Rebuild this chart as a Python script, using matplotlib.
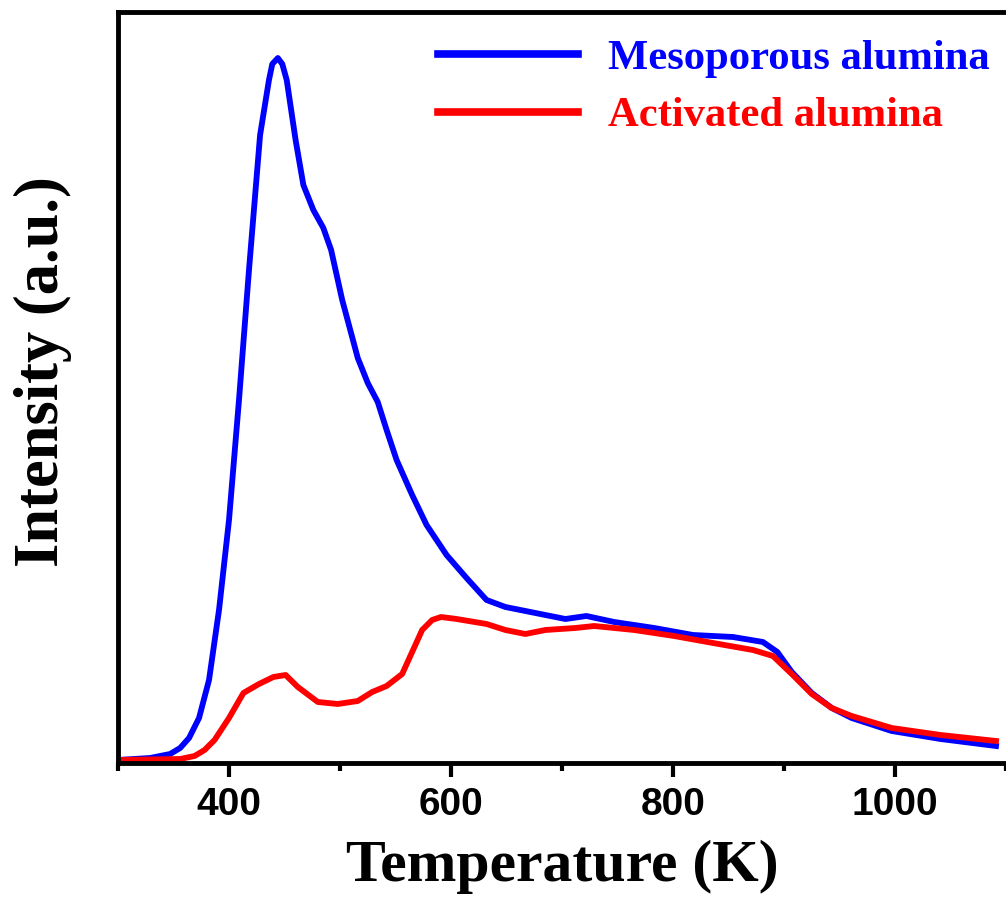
import matplotlib
matplotlib.use('agg')
import matplotlib.pyplot as plt

# TPD curves, values (arbitrary units)
temp_meso = [300, 329, 347, 356, 364, 373, 382, 391, 400, 409, 418, 428, 436, 439, 444, 448,
             452, 460, 467, 476, 485, 492, 502, 516, 525, 534, 542, 551, 565, 578, 596, 614,
             632, 649, 676, 703, 722, 747, 783, 818, 854, 881, 894, 907, 925, 943, 961,
             997, 1041, 1091]
int_meso = [3, 5, 9, 15, 25, 45, 83, 153, 243, 363, 493, 628, 683, 699, 705, 699,
            683, 623, 578, 553, 535, 513, 463, 405, 380, 361, 333, 303, 268, 238, 208, 185,
            163, 156, 150, 144, 147, 141, 135, 128, 126, 121, 111, 91, 70, 55, 45,
            32, 24, 17]

temp_act = [300, 356, 369, 378, 387, 400, 413, 427, 440, 451, 462, 480, 498, 516, 529,
            542, 556, 565, 574, 583, 591, 605, 632, 649, 667, 685, 712, 729, 765, 801,
            836, 872, 890, 907, 925, 943, 961, 997, 1041, 1091]
int_act = [3, 4, 7, 13, 23, 45, 70, 79, 86, 88, 76, 61, 59, 62, 71,
           77, 89, 111, 133, 143, 146, 144, 139, 133, 129, 133, 135, 137, 133, 127,
           120, 113, 107, 89, 69, 55, 47, 35, 28, 22]

fig = plt.figure(figsize=(10.06, 8.97), dpi=100)
ax = fig.add_axes([0.1173, 0.1494, 0.8827, 0.8372])

ax.plot(temp_meso, int_meso, color='#0000ff', lw=4.2, label='Mesoporous alumina', solid_joinstyle='round')
ax.plot(temp_act, int_act, color='#ff0000', lw=4.2, label='Activated alumina', solid_joinstyle='round')

ax.set_xlim(300, 1091)
ax.set_ylim(0, 751)
ax.set_xticks([400, 600, 800, 1000])
ax.set_xticks([300, 500, 700, 900, 1100], minor=True)
ax.set_yticks([])
ax.spines['right'].set_visible(False)
for s in ['left', 'bottom', 'top']:
    ax.spines[s].set_linewidth(3.5)
ax.tick_params(axis='x', which='major', length=10, width=3, direction='out', pad=7)
ax.tick_params(axis='x', which='minor', length=6, width=3, direction='out')
for lab in ax.get_xticklabels():
    lab.set_fontfamily('Liberation Sans')
    lab.set_fontweight('bold')
    lab.set_fontsize(28)

ax.set_xlabel('Temperature (K)', fontfamily='Liberation Serif', fontweight='bold', fontsize=43, labelpad=12)
ax.set_ylabel('Intensity (a.u.)', fontfamily='Liberation Serif', fontweight='bold', fontsize=45)
ax.yaxis.set_label_coords(-0.052, 0.521)

leg = ax.legend(loc='upper right', bbox_to_anchor=(990 / 1006, 1 - 39 / 897),
                bbox_transform=fig.transFigure, frameon=False, borderpad=0, borderaxespad=0,
                prop={'family': 'Liberation Serif', 'weight': 'bold', 'size': 30.7},
                labelcolor='linecolor', handlelength=3.3, handletextpad=0.7, labelspacing=0.44)
for h in leg.get_lines():
    h.set_linewidth(5.5)

plt.savefig('out.png', dpi=100)
